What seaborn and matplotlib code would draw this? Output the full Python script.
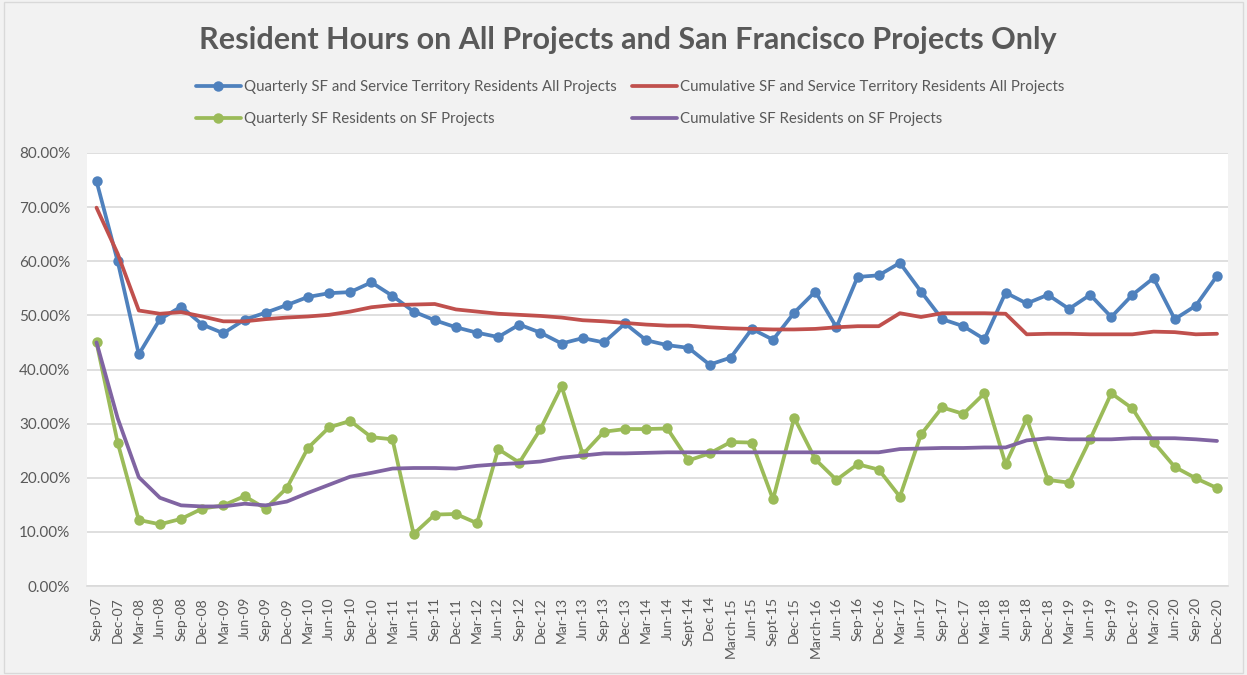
import matplotlib
matplotlib.use("Agg")
import matplotlib.pyplot as plt
import seaborn as sns
import pandas as pd
import numpy as np
from matplotlib.ticker import FuncFormatter

quarters = ["Sep-07", "Dec-07", "Mar-08", "Jun-08", "Sep-08", "Dec-08", "Mar-09", "Jun-09",
            "Sep-09", "Dec-09", "Mar-10", "Jun-10", "Sep-10", "Dec-10", "Mar-11", "Jun-11",
            "Sep-11", "Dec-11", "Mar-12", "Jun-12", "Sep-12", "Dec-12", "Mar-13", "Jun-13",
            "Sep-13", "Dec-13", "Mar-14", "Jun-14", "Sept-14", "Dec 14", "March-15", "Jun-15",
            "Sept-15", "Dec-15", "March-16", "Jun-16", "Sep-16", "Dec-16", "Mar-17", "Jun-17",
            "Sep-17", "Dec-17", "Mar-18", "Jun-18", "Sep-18", "Dec-18", "Mar-19", "Jun-19",
            "Sep-19", "Dec-19", "Mar-20", "Jun-20", "Sep-20", "Dec-20"]

quarterly_all = [74.8, 60.0, 42.8, 49.3, 51.6, 48.3, 46.7, 49.2, 50.5, 51.9, 53.4, 54.1, 54.3, 56.1,
                 53.6, 50.7, 49.1, 47.8, 46.8, 46.0, 48.3, 46.8, 44.8, 45.8, 45.0, 48.5, 45.4, 44.5,
                 44.0, 40.9, 42.2, 47.5, 45.5, 50.5, 54.4, 47.8, 57.1, 57.4, 59.7, 54.4, 49.3, 48.0,
                 45.6, 54.2, 52.2, 53.8, 51.2, 53.8, 49.7, 53.8, 56.9, 49.3, 51.8, 57.3]

cumulative_all = [69.9, 61.4, 50.9, 50.3, 50.6, 49.8, 48.9, 48.9, 49.3, 49.6, 49.8, 50.1, 50.7, 51.5,
                  51.9, 52.0, 52.1, 51.1, 50.7, 50.3, 50.1, 49.9, 49.6, 49.1, 48.9, 48.6, 48.3, 48.1,
                  48.1, 47.8, 47.6, 47.5, 47.4, 47.4, 47.5, 47.8, 48.0, 48.0, 50.4, 49.7, 50.4, 50.4,
                  50.4, 50.3, 46.5, 46.6, 46.6, 46.5, 46.5, 46.5, 47.0, 46.9, 46.5, 46.6]

quarterly_sf = [45.0, 26.5, 12.2, 11.4, 12.4, 14.3, 14.9, 16.6, 14.3, 18.1, 25.5, 29.3, 30.5, 27.5,
                27.1, 9.6, 13.2, 13.3, 11.6, 25.3, 22.8, 29.0, 36.9, 24.3, 28.5, 29.0, 29.0, 29.1,
                23.2, 24.5, 26.6, 26.5, 16.0, 31.1, 23.4, 19.6, 22.5, 21.5, 16.5, 28.0, 33.0, 31.8,
                35.6, 22.5, 30.9, 19.6, 19.1, 27.1, 35.6, 32.8, 26.6, 22.0, 19.9, 18.1]

cumulative_sf = [45.0, 31.0, 20.1, 16.3, 14.9, 14.7, 14.7, 15.2, 14.9, 15.6, 17.2, 18.7, 20.2, 20.9,
                 21.7, 21.8, 21.8, 21.7, 22.2, 22.5, 22.7, 23.0, 23.7, 24.1, 24.5, 24.5, 24.6, 24.7,
                 24.7, 24.7, 24.7, 24.7, 24.7, 24.7, 24.7, 24.7, 24.7, 24.7, 25.3, 25.4, 25.5, 25.5,
                 25.6, 25.6, 26.9, 27.3, 27.1, 27.1, 27.1, 27.3, 27.3, 27.3, 27.1, 26.8]

labels = ["Quarterly SF and Service Territory Residents All Projects",
          "Cumulative SF and Service Territory Residents All Projects",
          "Quarterly SF Residents on SF Projects",
          "Cumulative SF Residents on SF Projects"]
colors = ["#4f81bd", "#c0504d", "#9bbb59", "#8064a2"]
series = [quarterly_all, cumulative_all, quarterly_sf, cumulative_sf]
markers = [True, False, True, False]

sns.set_theme(style="white")
plt.rcParams['font.family'] = ['Lato', 'DejaVu Sans']

fig = plt.figure(figsize=(12.47, 6.75), dpi=100, facecolor="#f2f2f2")
ax = fig.add_axes([87/1247, 1-586/675, (1228-87)/1247, (586-153)/675])
ax.set_facecolor("white")

x = np.arange(len(quarters))
for vals, lab, col, mk in zip(series, labels, colors, markers):
    df = pd.DataFrame({"x": x, "y": np.array(vals) / 100.0})
    sns.lineplot(data=df, x="x", y="y", ax=ax, color=col, linewidth=2.7,
                 marker="o" if mk else None, markersize=7.5, markeredgewidth=0,
                 label=lab, legend=False)

ax.set_xlim(-0.45, len(quarters) - 1 + 0.52)
ax.set_ylim(0, 0.8)
ax.set_yticks(np.arange(0, 0.81, 0.1))
ax.yaxis.set_major_formatter(FuncFormatter(lambda v, p: f"{v*100:.2f}%"))
ax.set_xticks(x)
ax.set_xticklabels(quarters, rotation=90)
ax.tick_params(axis="x", labelsize=10, colors="#595959", length=0, pad=8)
ax.tick_params(axis="y", labelsize=11, colors="#595959", length=0, pad=12)
ax.grid(axis="y", color="#d9d9d9", linewidth=1.2)
ax.set_axisbelow(True)
for s in ["top", "right", "left"]:
    ax.spines[s].set_visible(False)
ax.spines["bottom"].set_color("#d9d9d9")
ax.spines["bottom"].set_linewidth(1.2)
ax.set_xlabel("")
ax.set_ylabel("")

fig.text(628/1247, 1-40/675, "Resident Hours on All Projects and San Francisco Projects Only",
         ha="center", va="center", fontsize=22, fontweight="bold", color="#595959")

h, l = ax.get_legend_handles_labels()
order = [0, 2, 1, 3]
leg = fig.legend([h[i] for i in order], [l[i] for i in order], ncol=2, frameon=False,
                 loc="center", bbox_to_anchor=(630/1247, 1-103/675), fontsize=10.8,
                 handlelength=3.0, columnspacing=1.0, labelspacing=1.2, handletextpad=0.2)
for t in leg.get_texts():
    t.set_color("#595959")

# outer border
fig.patches.append(plt.Rectangle((4/1247, 2/675), 1-8/1247, 1-4/675, transform=fig.transFigure,
                                 fill=False, edgecolor="#d9d9d9", linewidth=1))

fig.savefig("out.png", dpi=100, facecolor=fig.get_facecolor())
